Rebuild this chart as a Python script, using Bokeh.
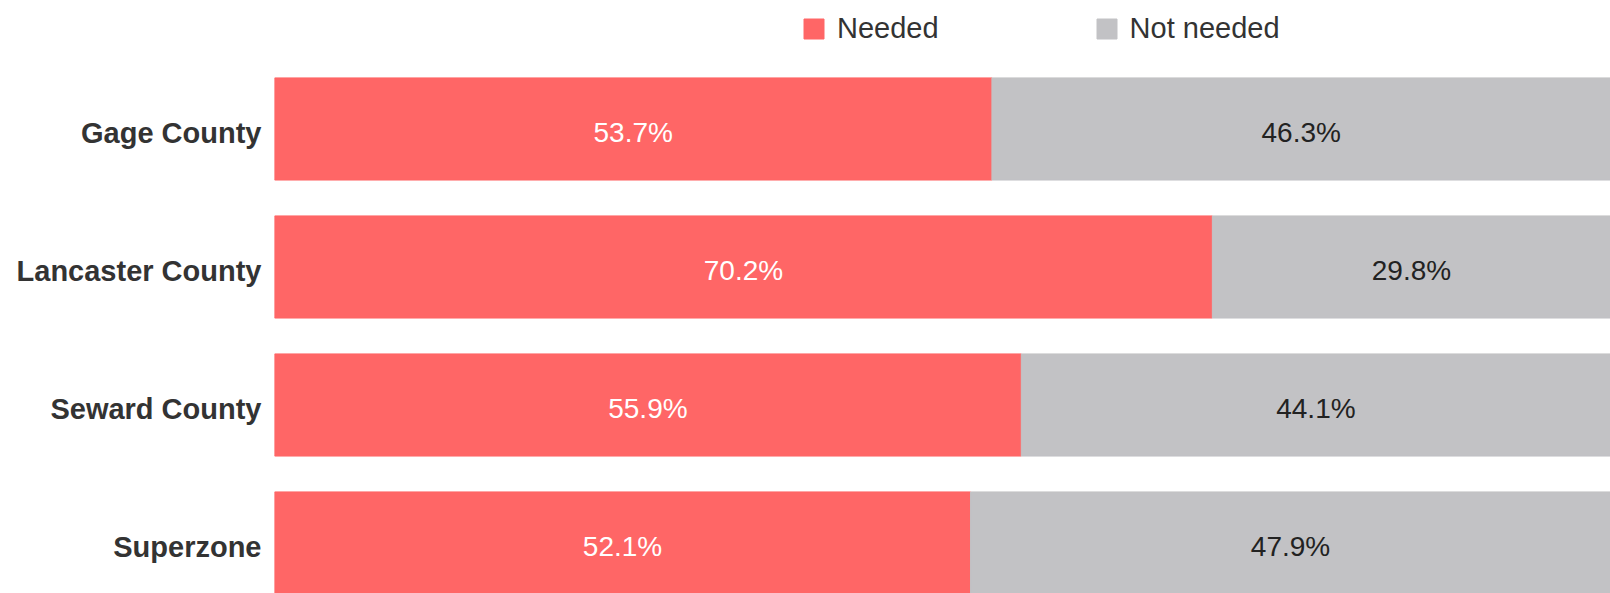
import numpy as np
from bokeh.plotting import figure
from bokeh.models import Range1d, FixedTicker, ColumnDataSource, Legend, LegendItem
from bokeh.core.properties import value
from bokeh.embed import file_html
from bokeh.resources import INLINE

categories = ["Gage County", "Lancaster County", "Seward County", "Superzone"]
needed = [53.7, 70.2, 55.9, 52.1]
not_needed = [46.3, 29.8, 44.1, 47.9]
series_names = ["Needed", "Not needed"]
colors = ["#FF6666", "#C2C2C5"]

n = len(categories)
ypos = list(np.arange(n)[::-1].astype(float))
needed_arr = np.array(needed)
not_arr = np.array(not_needed)

src = ColumnDataSource(dict(
    y=ypos,
    n0=[0.0] * n,
    n1=list(needed_arr),
    nn1=list(needed_arr + not_arr),
    mid_n=list(needed_arr / 2),
    mid_nn=list(needed_arr + not_arr / 2),
    lab_n=[f"{v:.1f}%" for v in needed],
    lab_nn=[f"{v:.1f}%" for v in not_needed],
))

p = figure(width=1610, height=593, output_backend="svg", toolbar_location=None,
           x_range=Range1d(0, 100), y_range=Range1d(-0.366, 3.931),
           min_border_left=274, min_border_right=0, min_border_top=0, min_border_bottom=0)

r1 = p.hbar(y="y", left="n0", right="n1", height=0.74, source=src,
            fill_color=colors[0], line_color=colors[0])
r2 = p.hbar(y="y", left="n1", right="nn1", height=0.74, source=src,
            fill_color=colors[1], line_color=colors[1])

p.text(x="mid_n", y="y", text="lab_n", source=src, text_align="center",
       text_baseline="middle", text_color="white", text_font=value("Liberation Sans"),
       text_font_size="28px", y_offset=4)
p.text(x="mid_nn", y="y", text="lab_nn", source=src, text_align="center",
       text_baseline="middle", text_color="#222222", text_font=value("Liberation Sans"),
       text_font_size="28px", y_offset=4)

# small downward nudge of the category labels (in data units) to centre them like the reference
label_shift = 0.03
ticks = [round(y - label_shift, 4) for y in ypos]
p.xaxis.visible = False
p.yaxis.ticker = FixedTicker(ticks=ticks)
p.yaxis.major_label_overrides = {t: c for t, c in zip(ticks, categories)}
p.yaxis.axis_line_color = None
p.yaxis.major_tick_line_color = None
p.yaxis.minor_tick_line_color = None
p.yaxis.major_label_text_font = "Liberation Sans"
p.yaxis.major_label_text_font_style = "bold"
p.yaxis.major_label_text_font_size = "29px"
p.yaxis.major_label_text_color = "#333333"
p.yaxis.major_label_standoff = 7
p.xgrid.visible = False
p.ygrid.visible = False
p.outline_line_color = None

legend = Legend(items=[LegendItem(label=series_names[0], renderers=[r1]),
                       LegendItem(label=series_names[1], renderers=[r2])],
                orientation="horizontal", location=(527, 548),
                glyph_width=25, glyph_height=25, label_standoff=11, spacing=155,
                padding=0, margin=0, border_line_color=None, background_fill_alpha=0,
                label_text_font="Liberation Sans", label_text_font_size="29px",
                label_text_color="#333333")
p.add_layout(legend, "center")

open("out.html", "w").write(file_html(p, INLINE))
